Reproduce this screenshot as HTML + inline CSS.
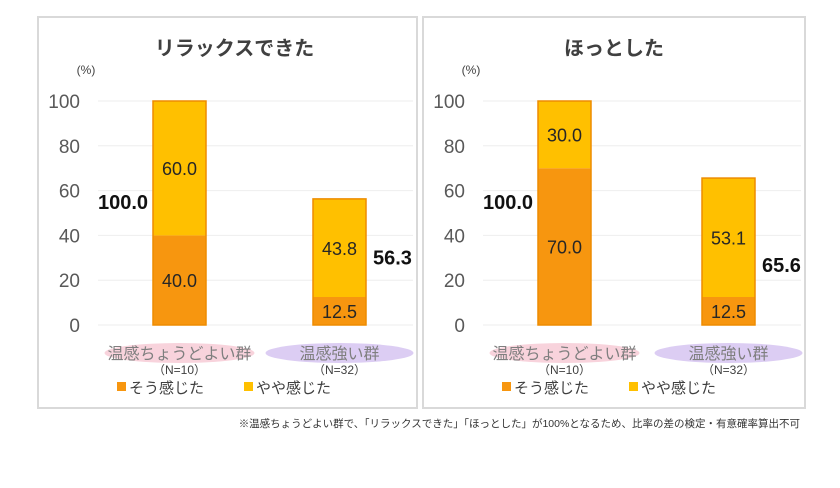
<!DOCTYPE html>
<html><head><meta charset="utf-8"><style>
body{margin:0;background:#fff;width:840px;height:483px;overflow:hidden;font-family:"Liberation Sans","Noto Sans CJK JP",sans-serif}
svg text{font-family:"Liberation Sans","Noto Sans CJK JP",sans-serif}
</style></head><body>
<svg id="c" width="840" height="483"></svg>
<script>
const titles=["リラックスできた","ほっとした"];
const categories=["温感ちょうどよい群","温感強い群"];
const nLabels=["（N=10）","（N=32）"];
const strongVals=[[40.0,12.5],[70.0,12.5]];
const mildVals=[[60.0,43.8],[30.0,53.1]];
const totals=[[100.0,56.3],[100.0,65.6]];
const ticks=[0,20,40,60,80,100];
const NS="http://www.w3.org/2000/svg";
const svg=document.getElementById('c');
function mk(t,a,p){const e=document.createElementNS(NS,t);for(const k in a)e.setAttribute(k,a[k]);(p||svg).appendChild(e);return e;}
function yv(v){return 325-v*2.24;}
const panels=[{x:38,w:379,lab:80,g0:98,bx:[153,313],off:[5,2]},{x:423,w:382,lab:465,g0:483,bx:[538,702],off:[5,-6]}];
panels.forEach((P,pi)=>{
 const g=mk('g',{});
 
 
 const box=mk('rect',{x:P.x,y:17,width:P.w,height:391,fill:'#fff',stroke:'#d9d9d9','stroke-width':2},g);
 
 
 const t=mk('text',{x:P.x+P.w/2+(pi?0:7),y:55,'text-anchor':'middle','font-size':20,'font-weight':'bold',fill:'#404040'},g);t.textContent=titles[pi];
 
 
 const u=mk('text',{x:P.lab+6,y:74,'text-anchor':'middle','font-size':12,fill:'#404040'},g);u.textContent='(%)';
 
 
 ticks.forEach(v=>{
  const l=mk('line',{x1:P.g0,x2:P.x+P.w-4,y1:yv(v),y2:yv(v),stroke:'#eeeeee','stroke-width':1},g);
  
  
  const tx=mk('text',{x:P.lab,y:yv(v)+7,'text-anchor':'end','font-size':19,fill:'#595959'},g);tx.textContent=v;
  
  
 });
 categories.forEach((c,ci)=>{
  const bx=P.bx[ci],bw=53,s=strongVals[pi][ci],m=mildVals[pi][ci],tot=totals[pi][ci];
  const r1=mk('rect',{x:bx,y:yv(s),width:bw,height:s*2.24,fill:'#f7960f'},g);
  
  
  const r2=mk('rect',{x:bx,y:yv(s+m),width:bw,height:m*2.24,fill:'#ffc000'},g);
  
  
  const ob=mk('rect',{x:bx,y:yv(s+m),width:bw,height:(s+m)*2.24,fill:'none',stroke:'#ed8c00','stroke-width':1.5},g);
  
  
  const l1=mk('text',{x:bx+bw/2,y:yv(s/2)+7,'text-anchor':'middle','font-size':18,fill:'#262626'},g);l1.textContent=s.toFixed(1);
  
  
  const l2=mk('text',{x:bx+bw/2,y:yv(s+m/2)+7,'text-anchor':'middle','font-size':18,fill:'#262626'},g);l2.textContent=m.toFixed(1);
  
  
  const tl=mk('text',{x:ci===0?bx-55:bx+bw+7,y:yv(tot/2+P.off[ci])+7,'text-anchor':'start','font-size':20,'font-weight':'bold',fill:'#111'},g);tl.textContent=tot.toFixed(1);
  
  
  const cx=bx+bw/2;
  const el=mk('ellipse',{cx:cx,cy:353,rx:ci===0?75:74,ry:10,fill:ci===0?'#f8d3dc':'#dccdf3'},g);
  
  
  const ct=mk('text',{x:cx,y:359,'text-anchor':'middle','font-size':16,fill:'#7f7f7f'},g);ct.textContent=c;
  
  
  const nt=mk('text',{x:cx,y:374,'text-anchor':'middle','font-size':12,fill:'#404040'},g);nt.textContent=nLabels[ci];
  
  
 });
 const lx=P.x+79;
 [['#f7960f','そう感じた',0],['#ffc000','やや感じた',127]].forEach(L=>{
  const s=mk('rect',{x:lx+L[2],y:382,width:9,height:9,fill:L[0]},g);
  
  
  const tt=mk('text',{x:lx+L[2]+12,y:393,'font-size':15,fill:'#404040'},g);tt.textContent=L[1];
  
  
 });
});
const note=mk('text',{x:800,y:427,'text-anchor':'end','font-size':10.5,fill:'#333'});
note.textContent='※温感ちょうどよい群で、「リラックスできた」「ほっとした」が100%となるため、比率の差の検定・有意確率算出不可';


</script>
</body></html>
